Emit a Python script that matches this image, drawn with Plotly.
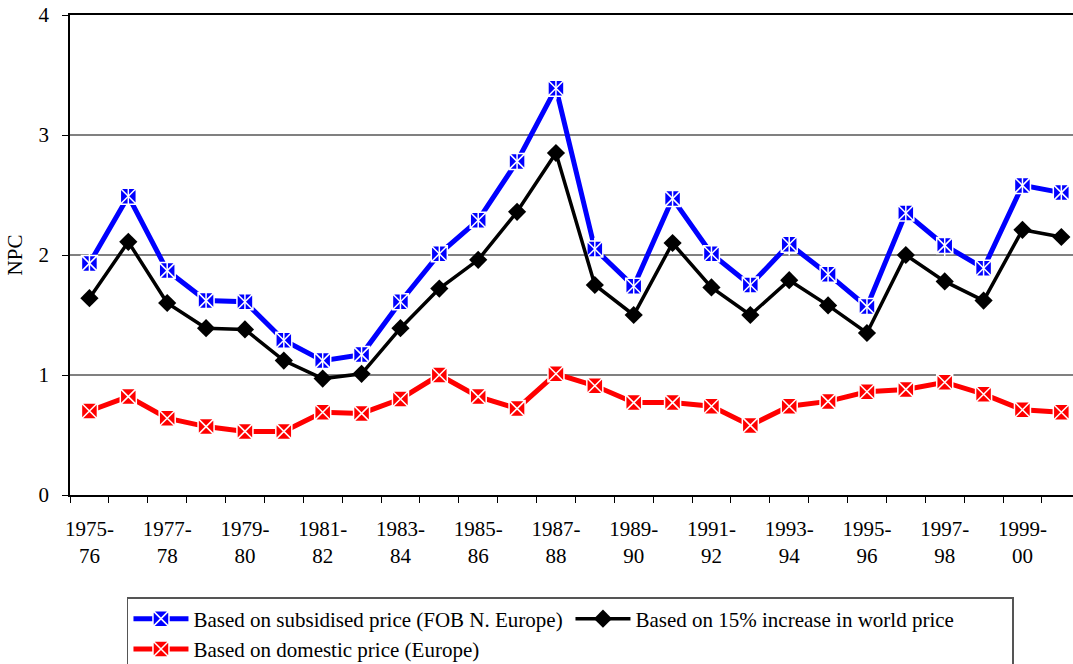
import plotly.graph_objects as go

# --- data ---
years = [f"{y}-{str(y + 1)[-2:]}" for y in range(1975, 2001)]
tick_text = [y.replace("-", "-<br>") if i % 2 == 0 else "" for i, y in enumerate(years)]

subsidised = [1.93, 2.49, 1.87, 1.62, 1.61, 1.29, 1.12, 1.17, 1.61, 2.01,
              2.29, 2.78, 3.39, 2.05, 1.74, 2.47, 2.01, 1.75, 2.09, 1.84,
              1.57, 2.35, 2.08, 1.89, 2.58, 2.52]
world_plus15 = [1.64, 2.11, 1.60, 1.39, 1.38, 1.12, 0.97, 1.01, 1.39, 1.72,
                1.96, 2.36, 2.85, 1.75, 1.50, 2.10, 1.73, 1.50, 1.79, 1.58,
                1.35, 2.00, 1.78, 1.62, 2.21, 2.15]
domestic = [0.70, 0.82, 0.64, 0.57, 0.53, 0.53, 0.69, 0.68, 0.80, 1.00,
            0.82, 0.72, 1.01, 0.91, 0.77, 0.77, 0.74, 0.58, 0.74, 0.78,
            0.86, 0.88, 0.94, 0.84, 0.71, 0.69]

FONT = "Liberation Serif, Times New Roman, serif"

fig = go.Figure()

# blue: square with white asterisk
fig.add_trace(go.Scatter(
    x=years, y=subsidised, name="Based on subsidised price (FOB N. Europe)",
    mode="lines+markers",
    line=dict(color="#0000ff", width=5),
    marker=dict(symbol="square-x", size=16, color="#0000ff",
                line=dict(color="white", width=1.5)),
))
# vertical white stroke to complete the asterisk
fig.add_trace(go.Scatter(
    x=years, y=subsidised, mode="markers", showlegend=False, hoverinfo="skip",
    marker=dict(symbol="line-ns", size=16, line=dict(color="white", width=1.5)),
))

# black diamonds
fig.add_trace(go.Scatter(
    x=years, y=world_plus15, name="Based on 15% increase in world price",
    mode="lines+markers",
    line=dict(color="black", width=3.5),
    marker=dict(symbol="diamond", size=14, color="black"),
))

# red: square with white x
fig.add_trace(go.Scatter(
    x=years, y=domestic, name="Based on domestic price (Europe)",
    mode="lines+markers",
    line=dict(color="#ff0000", width=5),
    marker=dict(symbol="square-x", size=16, color="#ff0000",
                line=dict(color="white", width=1.5)),
))

fig.update_layout(
    width=1073, height=664,
    margin=dict(l=70, r=0, t=15, b=169, autoexpand=False),
    plot_bgcolor="white", paper_bgcolor="white",
    font=dict(family=FONT, size=21, color="black"),
    showlegend=True,
    legend=dict(
        orientation="h", x=0.0568, y=-0.2125, xanchor="left", yanchor="top",
        bordercolor="#555555", borderwidth=1.5,
        font=dict(family=FONT, size=21, color="black"),
        entrywidth=372, entrywidthmode="pixels",
        tracegroupgap=0, itemwidth=55,
    ),
)

fig.update_xaxes(
    type="category", range=[-0.5, 25.3], automargin=False,
    tickmode="array", tickvals=years, ticktext=tick_text, tickangle=0,
    tickson="boundaries", ticks="outside", ticklen=6, tickcolor="black",
    showgrid=False, showline=True, linecolor="black", linewidth=1.5,
    mirror=True, tickfont=dict(size=21), ticklabelstandoff=14,
)
fig.update_yaxes(
    range=[0, 4], dtick=1, ticks="outside", ticklen=6, tickcolor="black",
    automargin=False,
    showgrid=True, gridcolor="#808080", gridwidth=1.5,
    showline=True, linecolor="black", linewidth=1.5, zeroline=False,
    title=dict(text="NPC", font=dict(size=21), standoff=10),
    tickfont=dict(size=21), ticklabelstandoff=9,
)

# drop the default page margin so the figure sits at the window corner
fig.write_html("out.html", config={"displayModeBar": False},
               post_script="document.body.style.margin='0';")
